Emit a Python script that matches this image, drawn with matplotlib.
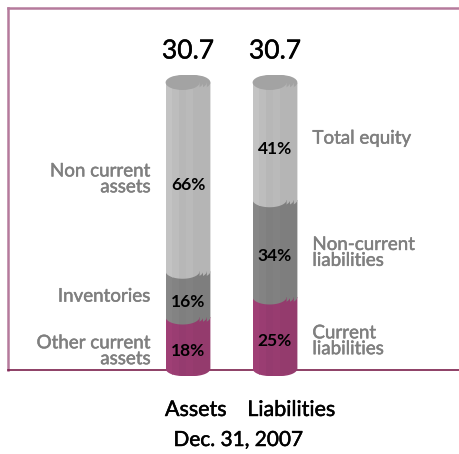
import matplotlib
matplotlib.use("Agg")
import matplotlib.pyplot as plt
from matplotlib.patches import Rectangle, Ellipse, PathPatch
from matplotlib.path import Path
from matplotlib.lines import Line2D
import matplotlib.patheffects as pe
import numpy as np

# Balance sheet structure at Dec. 31, 2007
columns = ["Assets", "Liabilities"]
totals = [30.7, 30.7]
assets_parts = ["Other current\nassets", "Inventories", "Non current\nassets"]
assets_pct = [18, 16, 66]
liab_parts = ["Current\nliabilities", "Non-current\nliabilities", "Total equity"]
liab_pct = [25, 34, 41]
date_label = "Dec. 31, 2007"

seg_colors = ["#9a3d72", "#838383", "#bdbdbd"]
edge_colors = ["#c27aa2", "#a6a6a6", "#d6d6d6"]
top_color = "#a3a3a3"
label_gray = "#7f7f7f"

plt.rcParams["font.family"] = ["Lato", "DejaVu Sans"]

W, H = 459, 454
fig = plt.figure(figsize=(W / 100, H / 100), dpi=100)
ax = fig.add_axes([0, 0, 1, 1])
# x: category index, y: percentage of the total
px_per_x = 87.0
px_per_y = 2.86
x0_px = 188.0
y0_px = H - 368.5
ax.set_xlim(-x0_px / px_per_x, (W - x0_px) / px_per_x)
ax.set_ylim(-y0_px / px_per_y, (H - y0_px) / px_per_y)
ax.axis("off")


def heavier(color, w=0.35):
    return [pe.withStroke(linewidth=w, foreground=color)]


# outer frame
frame_kw = dict(transform=fig.transFigure, zorder=0)
fig.add_artist(Line2D([8 / W, 8 / W], [1 - 8 / H, 1 - 370 / H], color="#b57a9c", lw=1.8, **frame_kw))
fig.add_artist(Line2D([8 / W, 1.0], [1 - 8 / H, 1 - 8 / H], color="#b57a9c", lw=1.8, **frame_kw))
fig.add_artist(Line2D([8 / W, 1.0], [1 - 370 / H, 1 - 370 / H], color="#7a1f4c", lw=1.2, **frame_kw))

cyl_w = 34 / px_per_x       # width of one layer
step = 3.6 / px_per_x       # horizontal offset between layers
ell_h = 15 / px_per_y       # ellipse height in y units
n_layers = 4
band_shades = [1.03, 1.0, 0.97, 0.985, 0.96]


def shade(c, f):
    rgb = np.array(matplotlib.colors.to_rgb(c)) * f
    return tuple(np.clip(rgb, 0, 1))


def segment_path(xl, xr, yb, yt):
    t = np.linspace(np.pi, 2 * np.pi, 40)
    xc = (xl + xr) / 2
    arc_x = xc + (xr - xl) / 2 * np.cos(t)
    arc_y = yb + ell_h / 2 * np.sin(t)
    verts = [(xl, yt)] + list(zip(arc_x, arc_y)) + [(xr, yt), (xl, yt)]
    codes = [Path.MOVETO] + [Path.LINETO] * (len(verts) - 2) + [Path.CLOSEPOLY]
    return Path(verts, codes)


def draw_stack(xc, pcts, z):
    left0 = xc - (cyl_w + step * (n_layers - 1)) / 2
    for k in reversed(range(n_layers)):
        xl = left0 + k * step
        xr = xl + cyl_w
        zz = z + (n_layers - k) * 10
        bottom = 0.0
        for i, p in enumerate(pcts):
            top = bottom + p
            clip = PathPatch(segment_path(xl, xr, bottom, top), facecolor="none",
                             edgecolor="none", transform=ax.transData)
            ax.add_patch(clip)
            nb = len(band_shades)
            for b, f in enumerate(band_shades):
                bw = (xr - xl) / nb
                r = Rectangle((xl + b * bw, bottom - ell_h), bw * 1.02, p + ell_h,
                              facecolor=shade(seg_colors[i], f), edgecolor="none",
                              zorder=zz + i * 0.1)
                ax.add_patch(r)
                r.set_clip_path(clip)
            if k > 0:
                ln = Rectangle((xl, bottom - ell_h), 0.9 / px_per_x, p + ell_h,
                               facecolor=edge_colors[i], edgecolor="none",
                               zorder=zz + i * 0.1 + 0.05)
                ax.add_patch(ln)
                ln.set_clip_path(clip)
            bottom = top
        ax.add_patch(Ellipse(((xl + xr) / 2, bottom), cyl_w, ell_h,
                             facecolor=top_color, edgecolor="none", zorder=zz + 1))


# vertical nudges (pixels, downward) for value and name labels
pct_shift = 8 / px_per_y
name_shift = {0: [8, 2, 2], 1: [8, 4, -3]}
column_label_x = [0.09, 1.19]

for j, pcts in enumerate([assets_pct, liab_pct]):
    draw_stack(j, pcts, 10 + j * 100)
    ax.text(j, 111, f"{totals[j]:.1f}", ha="center", va="center",
            fontsize=19, color="black", zorder=500, path_effects=heavier("black", 0.3))
    ax.text(column_label_x[j], -14.5, columns[j], ha="center", va="center",
            fontsize=15.5, color="black", zorder=500, path_effects=heavier("black"))
    cum = 0
    for p in pcts:
        ax.text(j, cum + p / 2 - pct_shift, f"{p}%", ha="center", va="center",
                fontsize=12.5, fontweight="bold", color="black", zorder=500)
        cum += p

ax.text(0.58, -25, date_label, ha="center", va="center", fontsize=15,
        color="black", path_effects=heavier("black"))

# segment names beside the stacks
for j, (names, pcts) in enumerate([(assets_parts, assets_pct), (liab_parts, liab_pct)]):
    cum = 0
    for name, p, s in zip(names, pcts, name_shift[j]):
        ax.text(-0.43 if j == 0 else 1.43, cum + p / 2 - s / px_per_y, name,
                ha="right" if j == 0 else "left", va="center", fontsize=13.5,
                color=label_gray, linespacing=0.92, path_effects=heavier(label_gray))
        cum += p

fig.savefig("out.png", dpi=100)
